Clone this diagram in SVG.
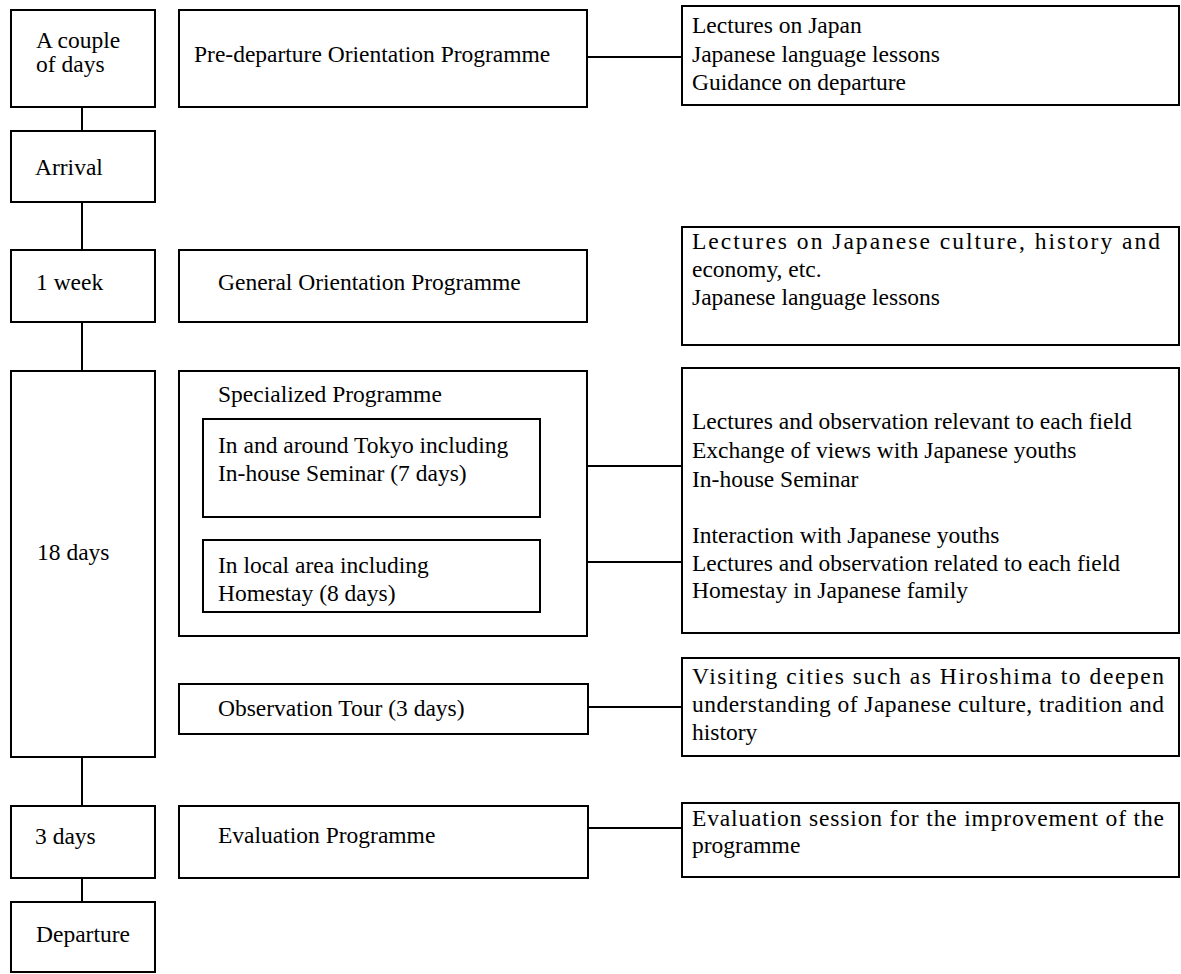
<svg xmlns="http://www.w3.org/2000/svg" width="1181" height="974" viewBox="0 0 1181 974">
<style>
rect{fill:#fff;stroke:#000;stroke-width:2}
line{stroke:#000;stroke-width:2}
text{font-family:"Liberation Serif","Times New Roman",serif;font-size:23.5px;fill:#000}
</style>
<rect x="0" y="0" width="1181" height="974" style="stroke:none"/>
<g id="connectors">
<line x1="82" y1="107" x2="82" y2="131"/>
<line x1="82" y1="202" x2="82" y2="250"/>
<line x1="82" y1="322" x2="82" y2="371"/>
<line x1="82" y1="757" x2="82" y2="806"/>
<line x1="82" y1="878" x2="82" y2="902"/>
<line x1="587" y1="57" x2="682" y2="57"/>
<line x1="540" y1="466" x2="682" y2="466"/>
<line x1="540" y1="562" x2="682" y2="562"/>
<line x1="588" y1="707" x2="682" y2="707"/>
<line x1="588" y1="828" x2="682" y2="828"/>
</g>
<g id="t-couple"><rect x="11" y="10" width="144" height="97"/><text x="36" y="48">A couple</text><text x="36" y="72">of days</text></g>
<g id="t-arrival"><rect x="11" y="131" width="144" height="71"/><text x="35" y="175">Arrival</text></g>
<g id="t-week"><rect x="11" y="250" width="144" height="72"/><text x="36" y="290">1 week</text></g>
<g id="t-18"><rect x="11" y="371" width="144" height="386"/><text x="37" y="560">18 days</text></g>
<g id="t-3"><rect x="11" y="806" width="144" height="72"/><text x="35" y="844">3 days</text></g>
<g id="t-dep"><rect x="11" y="902" width="144" height="70"/><text x="36" y="942">Departure</text></g>

<g id="p-pre"><rect x="179" y="10" width="408" height="97"/><text x="194" y="62">Pre-departure Orientation Programme</text></g>
<g id="p-gen"><rect x="179" y="250" width="408" height="72"/><text x="218" y="290">General Orientation Programme</text></g>
<g id="p-spec"><rect x="179" y="371" width="408" height="265"/><text x="218" y="402">Specialized Programme</text></g>
<g id="p-tokyo"><rect x="203" y="419" width="337" height="98"/><text x="218" y="453">In and around Tokyo including</text><text x="218" y="481">In-house Seminar (7 days)</text></g>
<g id="p-local"><rect x="203" y="540" width="337" height="72"/><text x="218" y="573">In local area including</text><text x="218" y="601">Homestay (8 days)</text></g>
<g id="p-obs"><rect x="179" y="684" width="409" height="50"/><text x="218" y="716">Observation Tour (3 days)</text></g>
<g id="p-eval"><rect x="179" y="806" width="409" height="72"/><text x="218" y="843">Evaluation Programme</text></g>

<g id="d-pre"><rect x="682" y="6" width="497" height="99"/><text x="692" y="33">Lectures on Japan</text><text x="692" y="62">Japanese language lessons</text><text x="692" y="90">Guidance on departure</text></g>
<g id="d-gen"><rect x="682" y="227" width="497" height="118"/><text x="692" y="249" textLength="468" lengthAdjust="spacing">Lectures on Japanese culture, history and</text><text x="692" y="277">economy, etc.</text><text x="692" y="305">Japanese language lessons</text></g>
<g id="d-spec"><rect x="682" y="368" width="497" height="265"/><text x="692" y="429">Lectures and observation relevant to each field</text><text x="692" y="458">Exchange of views with Japanese youths</text><text x="692" y="487">In-house Seminar</text><text x="692" y="543">Interaction with Japanese youths</text><text x="692" y="571">Lectures and observation related to each field</text><text x="692" y="598">Homestay in Japanese family</text></g>
<g id="d-obs"><rect x="682" y="658" width="497" height="98"/><text x="692" y="684" textLength="472" lengthAdjust="spacing">Visiting cities such as Hiroshima to deepen</text><text x="692" y="712" textLength="472" lengthAdjust="spacing">understanding of Japanese culture, tradition and</text><text x="692" y="740">history</text></g>
<g id="d-eval"><rect x="682" y="803" width="497" height="74"/><text x="692" y="826" textLength="472" lengthAdjust="spacing">Evaluation session for the improvement of the</text><text x="692" y="853">programme</text></g>
</svg>
